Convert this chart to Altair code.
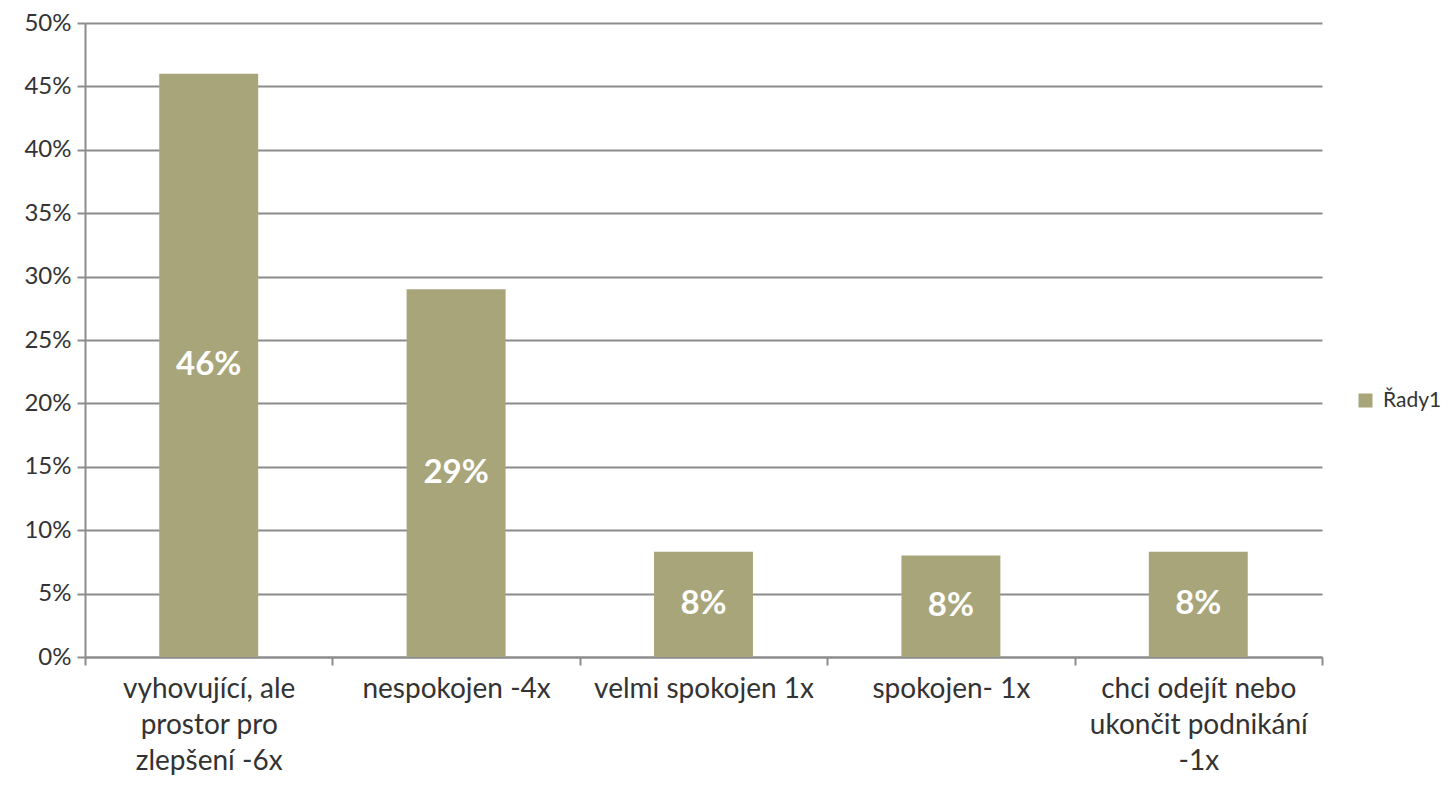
import altair as alt
import pandas as pd

categories = [
    "vyhovující, ale prostor pro zlepšení -6x",
    "nespokojen -4x",
    "velmi spokojen 1x",
    "spokojen- 1x",
    "chci odejít nebo ukončit podnikání -1x",
]
label_lines = [
    ["vyhovující, ale", "prostor pro", "zlepšení -6x"],
    ["nespokojen -4x"],
    ["velmi spokojen 1x"],
    ["spokojen- 1x"],
    ["chci odejít nebo", "ukončit podnikání", "-1x"],
]
values = [0.46, 0.29, 0.083, 0.080, 0.083]
series_name = "Řady1"

df = pd.DataFrame({"kat": categories, "hodnota": values, "serie": [series_name] * len(categories)})

FONT = "Lato"
BAR = "#A9A57B"
GRID = "#8C8C8C"
TXT = "#333333"

lookup = "{" + ", ".join(
    "'" + c + "': [" + ", ".join("'" + l + "'" for l in lines) + "]"
    for c, lines in zip(categories, label_lines)
) + "}"

x_axis = alt.Axis(
    labelAngle=0,
    labelExpr=lookup + "[datum.label]",
    labelFontSize=28,
    labelLineHeight=36,
    labelFont=FONT,
    labelColor=TXT,
    labelPadding=10,
    labelLimit=320,
    tickBand="extent",
    tickSize=8,
    tickColor=GRID,
    tickWidth=2,
    domainColor=GRID,
    domainWidth=2,
    grid=False,
)
x = alt.X(
    "kat:N",
    sort=categories,
    title=None,
    scale=alt.Scale(paddingInner=0, paddingOuter=0),
    axis=x_axis,
)
y = alt.Y(
    "hodnota:Q",
    title=None,
    scale=alt.Scale(domain=[0, 0.5], nice=False),
    axis=alt.Axis(
        values=[i * 0.05 for i in range(11)],
        format=".0%",
        labelFontSize=24,
        labelFont=FONT,
        labelColor=TXT,
        labelPadding=6,
        tickSize=8,
        tickColor=GRID,
        tickWidth=2,
        domainColor=GRID,
        domainWidth=2,
        gridColor=GRID,
        gridWidth=2,
    ),
)

bars = alt.Chart(df).mark_bar(color=BAR, width=alt.RelativeBandSize(0.4)).encode(
    x=x,
    y=y,
    color=alt.Color(
        "serie:N",
        scale=alt.Scale(range=[BAR]),
        legend=alt.Legend(
            title=None,
            orient="none",
            legendX=1270,
            legendY=367,
            padding=0,
            symbolType="square",
            symbolSize=196,
            symbolStrokeWidth=0,
            labelFontSize=21,
            labelFont=FONT,
            labelColor=TXT,
            labelOffset=7,
            labelLimit=200,
        ),
    ),
)

labels = alt.Chart(df).transform_calculate(mid="datum.hodnota / 2").mark_text(
    color="white", fontSize=33, fontWeight="bold", font=FONT, baseline="middle"
).encode(
    x=x,
    y=alt.Y("mid:Q"),
    text=alt.Text("hodnota:Q", format=".0%"),
)

chart = (
    alt.layer(bars, labels)
    .properties(
        width=1237,
        height=634,
        background="white",
        autosize=alt.AutoSizeParams(type="none"),
        padding={"left": 77, "top": 15, "right": 122, "bottom": 120},
    )
    .configure_view(stroke=None)
)

chart.save("out.html", embed_options={"renderer": "svg", "actions": False})
